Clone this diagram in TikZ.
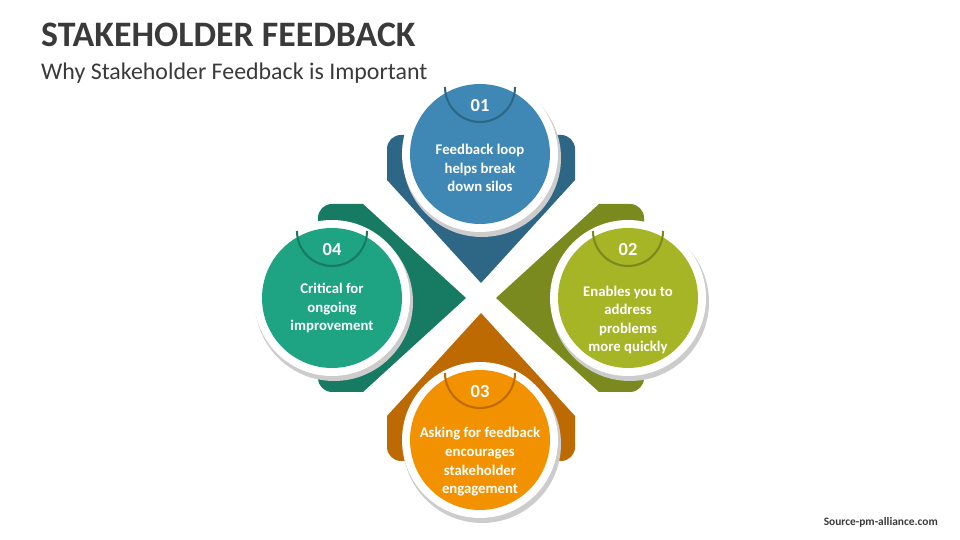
\documentclass[tikz,border=0pt]{standalone}
\usepackage{fontspec}
\setmainfont{Carlito}
\usetikzlibrary{positioning}
\definecolor{blueA}{HTML}{3F88B5}\definecolor{blueB}{HTML}{2E6685}
\definecolor{greenA}{HTML}{A5B526}\definecolor{greenB}{HTML}{7A8A1E}
\definecolor{orangeA}{HTML}{F39200}\definecolor{orangeB}{HTML}{BD6A02}
\definecolor{tealA}{HTML}{1EA383}\definecolor{tealB}{HTML}{177A62}
\definecolor{titlegray}{HTML}{3A3A3A}
\tikzset{
  petal/.style={fill=#1},
  ring/.style={circle, fill=white, minimum size=3.12cm, inner sep=0pt},
  disc/.style={circle, fill=#1, minimum size=2.8cm, inner sep=0pt},
  num/.style={text=white, font=\bfseries\fontsize{10.5}{12}\selectfont},
  body/.style={text=white, align=center, font=\bfseries\fontsize{8.4}{10.6}\selectfont},
}
\newcommand{\petalpath}{(0,15) -- (-94,118) -- (-94,149) arc[start angle=180, end angle=90, radius=14] -- (80,163) arc[start angle=90, end angle=0, radius=14] -- (94,118) -- cycle}
\begin{document}
\begin{tikzpicture}[x=0.02cm, y=0.02cm]
    \useasboundingbox (0,0) rectangle (960,540);
    % titles
    \node[anchor=west, text=titlegray, font=\bfseries\fontsize{20.4}{24}\selectfont] (title) at (35,505) {STAKEHOLDER FEEDBACK};
    \node[anchor=west, text=titlegray, font=\fontsize{13.6}{16}\selectfont] (subtitle) at (35,467) {Why Stakeholder Feedback is Important};
    \node[anchor=east, text=titlegray, font=\bfseries\fontsize{6.5}{7}\selectfont] (source) at (944,18) {Source-pm-alliance.com};
    % petals
    \begin{scope}[shift={(481,242)}]
        \fill[petal=blueB] \petalpath;
        \fill[petal=greenB, rotate=-90] \petalpath;
        \fill[petal=orangeB, rotate=180] \petalpath;
        \fill[petal=tealB, rotate=90] \petalpath;
    \end{scope}
    % circles
    \foreach \name/\cx/\cy/\col/\n in {c1/480/386/blue/01, c2/628/242/green/02, c3/480/100/orange/03, c4/332/242/teal/04}{
        \fill[black!20] (\cx+2,\cy-4) circle (79);
        \node[ring] (\name ring) at (\cx,\cy) {};
        \node[disc=\col A] (\name) at (\cx,\cy) {};
        \draw[\col B, line width=1.2pt] (\cx-35,\cy+67) arc[start angle=180, end angle=360, radius=35];
        \node[num] (\name num) at (\cx,\cy+48) {\n};
    }
    \node[body] (t1) at (480,372) {Feedback loop\\helps break\\down silos};
    \node[body] (t2) at (628,220) {Enables you to\\address\\problems\\more quickly};
    \node[body] (t3) at (480,78) {Asking for feedback\\encourages\\stakeholder\\engagement};
    \node[body] (t4) at (332,232) {Critical for\\ongoing\\improvement};
\end{tikzpicture}
\end{document}
